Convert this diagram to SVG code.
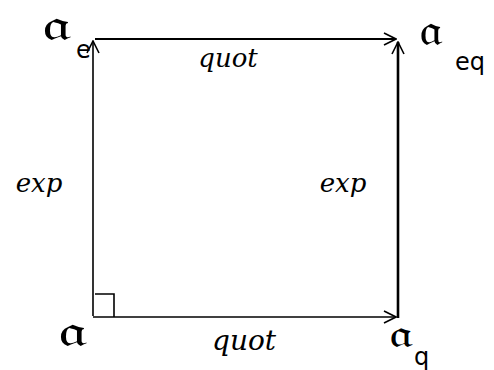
<svg xmlns="http://www.w3.org/2000/svg" width="494" height="370" viewBox="0 0 494 370">
<defs>
<marker id="ah" viewBox="0 0 14 14" refX="13" refY="7" markerWidth="14" markerHeight="14" markerUnits="userSpaceOnUse" orient="auto">
<path d="M1,1 L13,7 L1,13" fill="none" stroke="#000" stroke-width="1.6"/>
</marker>
<style>
.lbl{font-family:"DejaVu Sans","Noto Sans",sans-serif;fill:#000}
.node{font-size:42px}
.sub{font-size:24px}
.edge{font-size:26px;font-style:italic;font-family:"DejaVu Serif","Liberation Serif",serif;fill:#000}
.ln{stroke:#000;fill:none}
</style>
</defs>
<g id="connectors">
<line class="ln" x1="93" y1="316" x2="93" y2="41" stroke-width="1.6" marker-end="url(#ah)"/>
<line class="ln" x1="95" y1="39" x2="396" y2="39" stroke-width="2" marker-end="url(#ah)"/>
<line class="ln" x1="398" y1="318" x2="398" y2="42" stroke-width="2.6" marker-end="url(#ah)"/>
<line class="ln" x1="93" y1="317" x2="396" y2="317" stroke-width="1.6" marker-end="url(#ah)"/>
<path class="ln" d="M95,294 H114 V317" stroke-width="1.6"/>
<text class="edge" x="228" y="67" text-anchor="middle">quot</text>
<text class="edge" x="244" y="350" text-anchor="middle" style="font-size:28px">quot</text>
<text class="edge" x="39" y="192" text-anchor="middle">exp</text>
<text class="edge" x="343" y="192" text-anchor="middle">exp</text>
</g>
<g id="n-a"><text class="lbl node" transform="translate(58,346) scale(1.6,1.05)">𝔞</text></g>
<g id="n-ae"><text class="lbl node" transform="translate(42,40) scale(1.6,1.05)">𝔞</text><text class="lbl sub" x="76" y="58">e</text></g>
<g id="n-aeq"><text class="lbl node" transform="translate(419,45) scale(1.3,1.05)">𝔞</text><text class="lbl sub" x="455" y="70">eq</text></g>
<g id="n-aq"><text class="lbl node" transform="translate(389,347) scale(1.3,0.9)">𝔞</text><text class="lbl sub" x="414" y="365">q</text></g>
</svg>
